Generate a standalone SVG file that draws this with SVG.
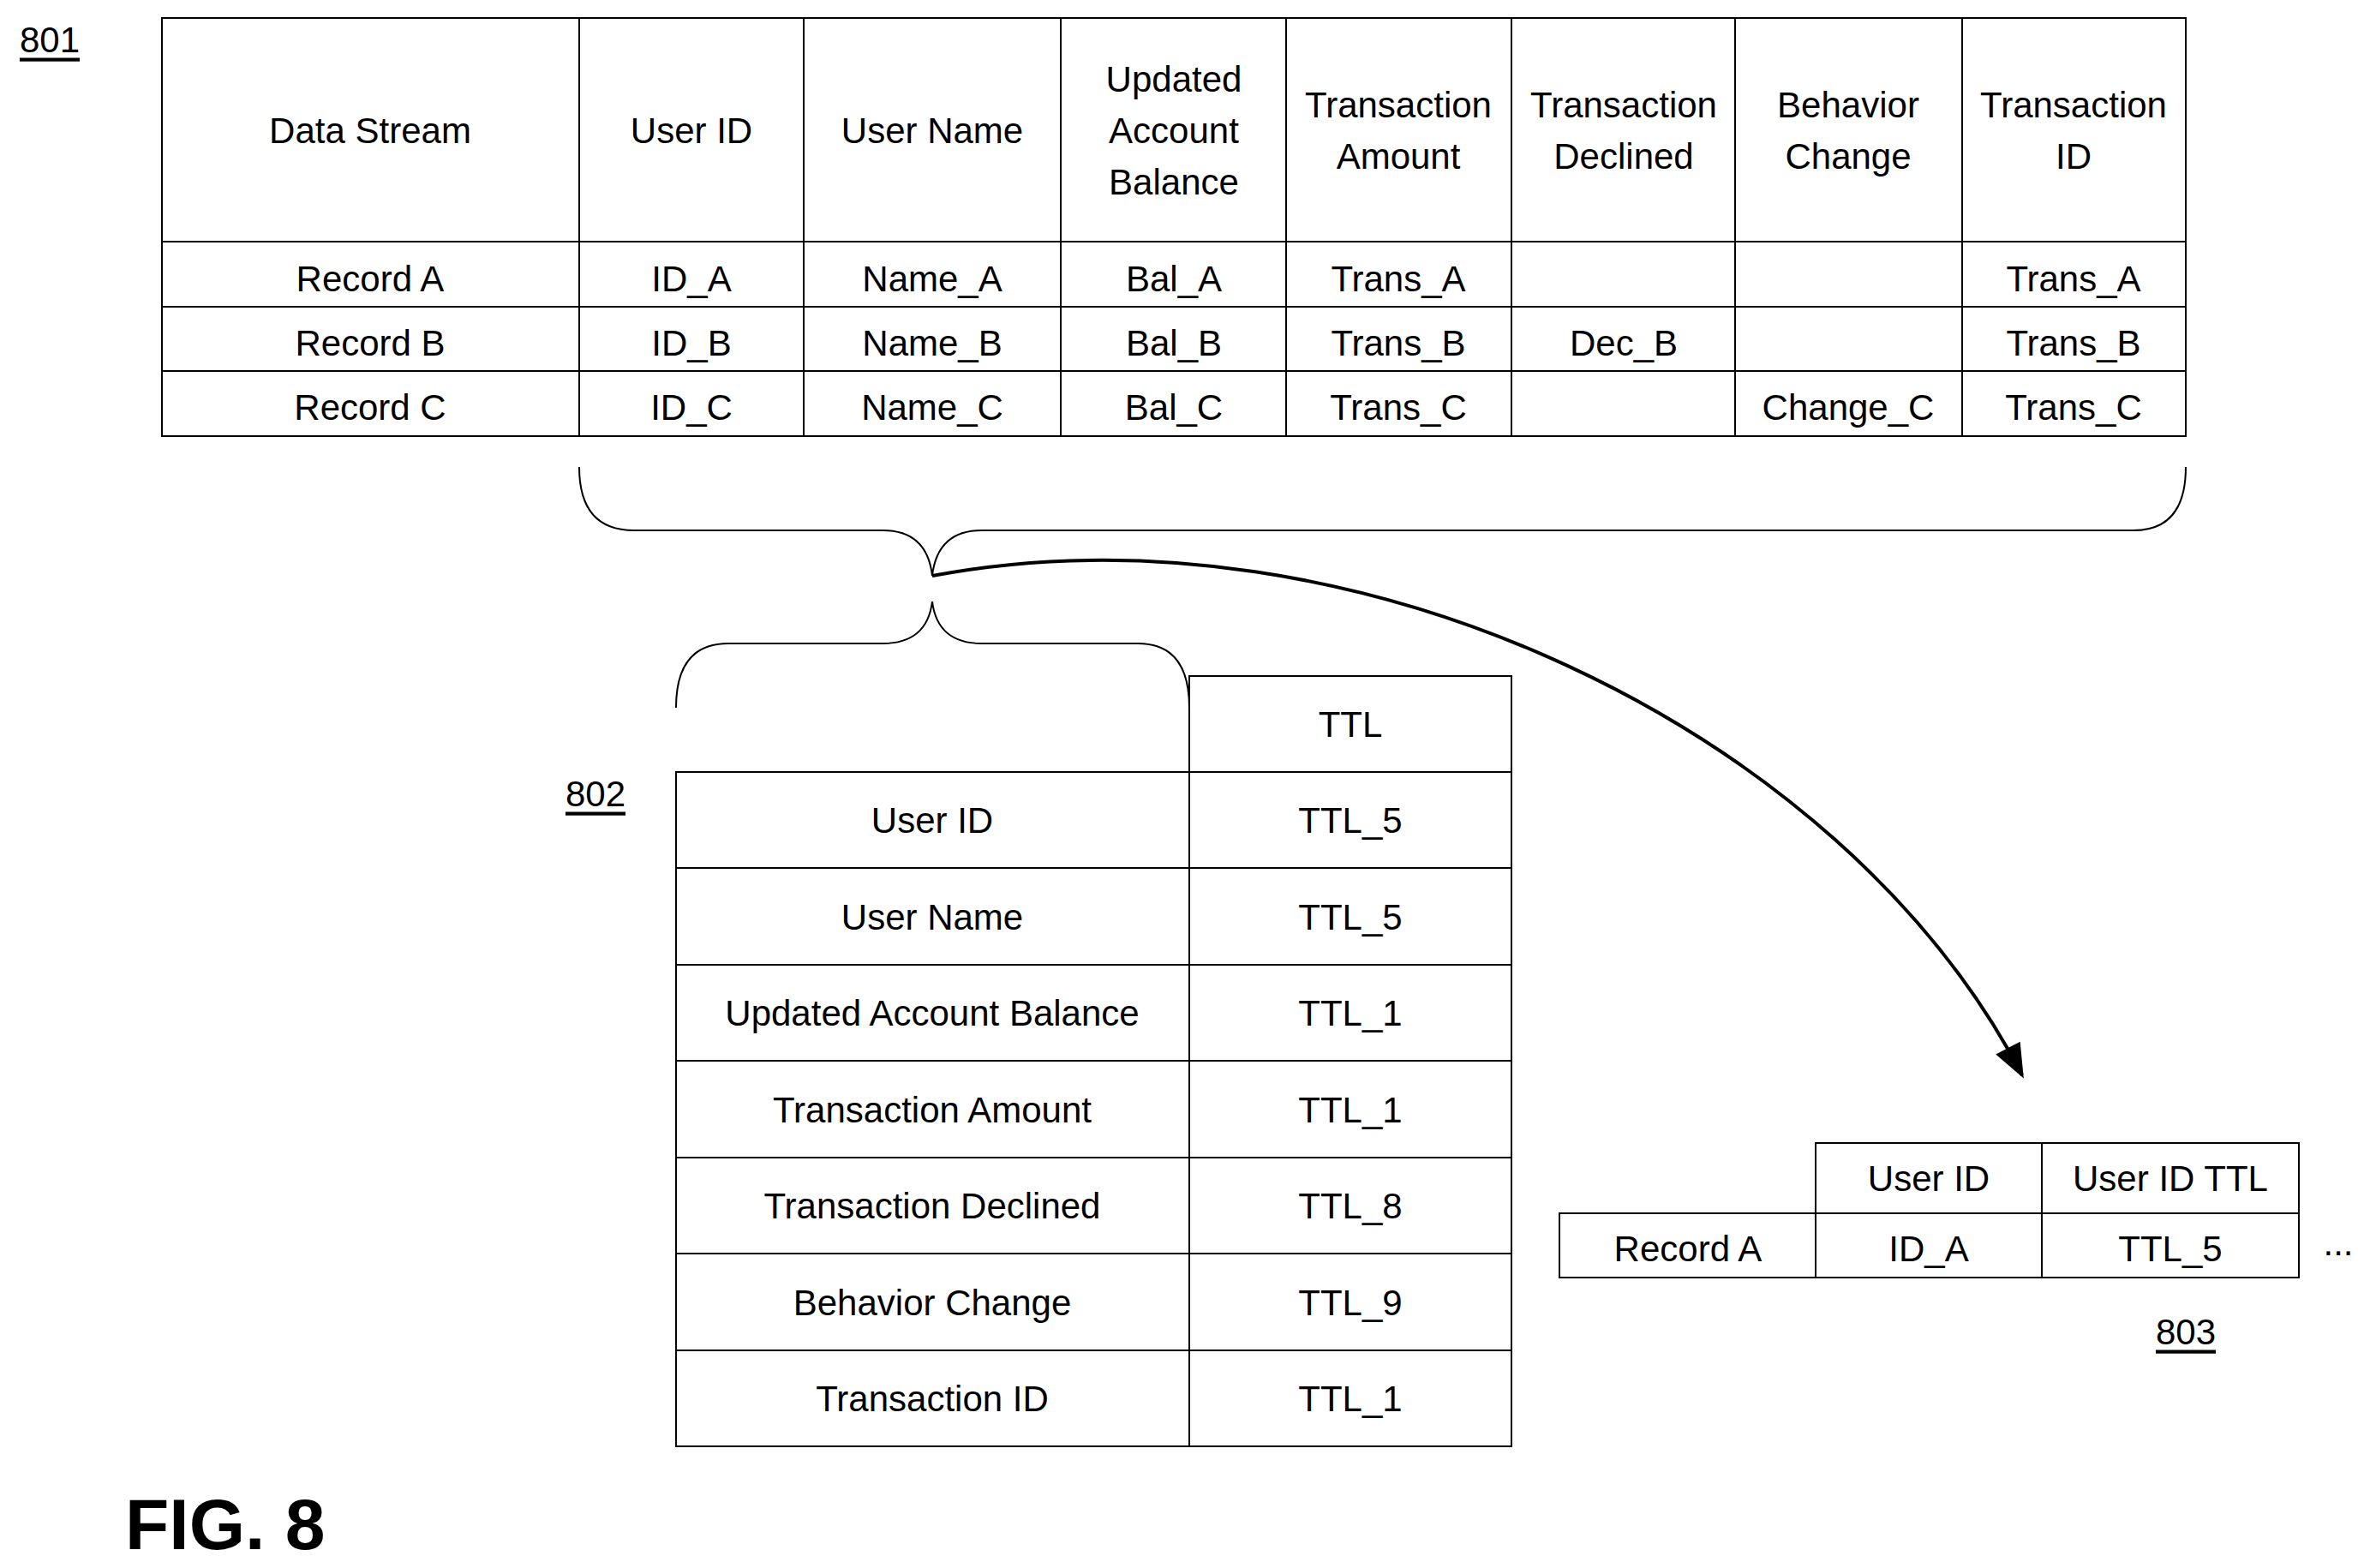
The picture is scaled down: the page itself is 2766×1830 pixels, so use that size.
<svg xmlns="http://www.w3.org/2000/svg" width="2766" height="1830" viewBox="0 0 2766 1830">
<style>
text{font-family:"Liberation Sans",Arial,sans-serif;font-size:42px;fill:#000;text-anchor:middle;dominant-baseline:central}
.g{fill:none;stroke:#000;stroke-width:2}
.lbl{text-decoration:underline;font-size:42px}
.c{fill:none;stroke:#000;stroke-width:4}
</style>
<defs><marker id="ah2" viewBox="0 0 10 10" refX="9" refY="5" markerWidth="14" markerHeight="10" orient="auto"><path d="M0,1 L10,5 L0,9 z" fill="#000"/></marker></defs>
<text class="lbl" x="58" y="46">801</text>
<g id="table801">
<rect class="g" x="189" y="21" width="2362" height="488"/>
<path class="g" d="M189,282H2551M189,358H2551M189,433H2551M676,21V509M938,21V509M1238,21V509M1501,21V509M1764,21V509M2025,21V509M2290,21V509"/>
<text x="432" y="152">Data Stream</text><text x="807" y="152">User ID</text><text x="1088" y="152">User Name</text>
<text x="1370" y="92">Updated</text><text x="1370" y="152">Account</text><text x="1370" y="212">Balance</text>
<text x="1632" y="122">Transaction</text><text x="1632" y="182">Amount</text>
<text x="1895" y="122">Transaction</text><text x="1895" y="182">Declined</text>
<text x="2157" y="122">Behavior</text><text x="2157" y="182">Change</text>
<text x="2420" y="122">Transaction</text><text x="2420" y="182">ID</text>
<text x="432" y="325">Record A</text><text x="807" y="325">ID_A</text><text x="1088" y="325">Name_A</text><text x="1370" y="325">Bal_A</text><text x="1632" y="325">Trans_A</text><text x="2420" y="325">Trans_A</text>
<text x="432" y="400">Record B</text><text x="807" y="400">ID_B</text><text x="1088" y="400">Name_B</text><text x="1370" y="400">Bal_B</text><text x="1632" y="400">Trans_B</text><text x="1895" y="400">Dec_B</text><text x="2420" y="400">Trans_B</text>
<text x="432" y="475">Record C</text><text x="807" y="475">ID_C</text><text x="1088" y="475">Name_C</text><text x="1370" y="475">Bal_C</text><text x="1632" y="475">Trans_C</text><text x="2157" y="475">Change_C</text><text x="2420" y="475">Trans_C</text>
</g>
<g id="braces">
<path class="g" d="M676,545 Q676,619 740,619 L1030,619 Q1082,619 1088,672 Q1094,619 1146,619 L2490,619 Q2551,619 2551,545"/>
<path class="g" d="M789,826 Q789,751 850,751 L1030,751 Q1082,751 1088,702 Q1094,751 1146,751 L1328,751 Q1388,751 1388,826"/>
</g>
<text class="lbl" x="695" y="926">802</text>
<g id="table802">
<rect class="g" x="1388" y="789" width="376" height="112"/>
<rect class="g" x="789" y="901" width="975" height="787"/>
<path class="g" d="M1388,901V1688M789,1013H1764M789,1126H1764M789,1238H1764M789,1351H1764M789,1463H1764M789,1576H1764"/>
<text x="1576" y="845">TTL</text>
<text x="1088" y="957">User ID</text><text x="1576" y="957">TTL_5</text>
<text x="1088" y="1070">User Name</text><text x="1576" y="1070">TTL_5</text>
<text x="1088" y="1182">Updated Account Balance</text><text x="1576" y="1182">TTL_1</text>
<text x="1088" y="1295">Transaction Amount</text><text x="1576" y="1295">TTL_1</text>
<text x="1088" y="1407">Transaction Declined</text><text x="1576" y="1407">TTL_8</text>
<text x="1088" y="1520">Behavior Change</text><text x="1576" y="1520">TTL_9</text>
<text x="1088" y="1632">Transaction ID</text><text x="1576" y="1632">TTL_1</text>
</g>
<g id="connectors">
<path class="c" d="M1088,672 C1580,580 2150,850 2360,1255" marker-end="url(#ah2)"/>
</g>
<g id="table803">
<rect class="g" x="2119" y="1334" width="564" height="82"/>
<rect class="g" x="1820" y="1416" width="863" height="75"/>
<path class="g" d="M2119,1416V1491M2383,1334V1491"/>
<text x="2251" y="1375">User ID</text><text x="2533" y="1375">User ID TTL</text>
<text x="1970" y="1457">Record A</text><text x="2251" y="1457">ID_A</text><text x="2533" y="1457">TTL_5</text>
<text x="2729" y="1450">...</text>
</g>
<text class="lbl" x="2551" y="1554">803</text>
<text x="146" y="1808" style="font-size:84px;font-weight:bold;text-anchor:start;dominant-baseline:auto">FIG. 8</text>
</svg>
